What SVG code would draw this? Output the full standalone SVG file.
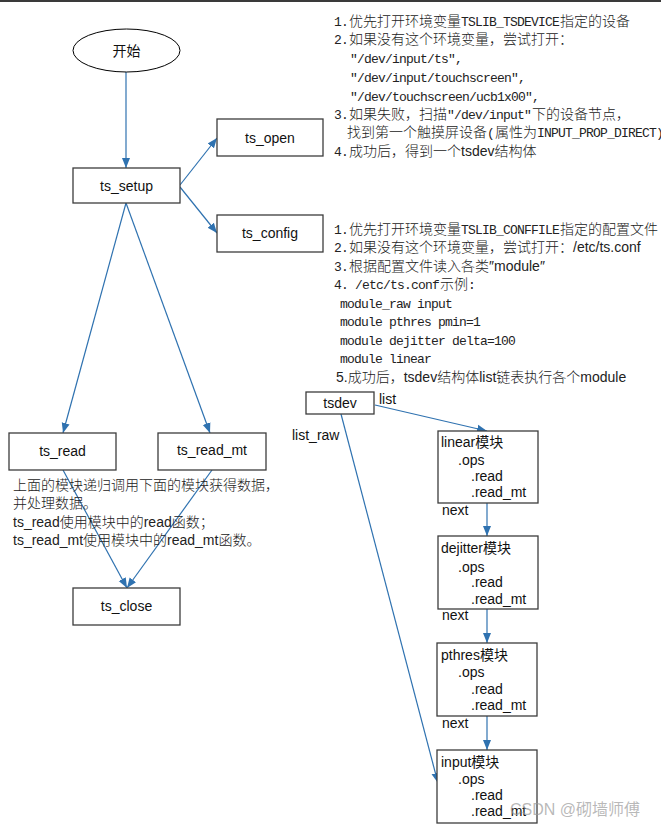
<svg xmlns="http://www.w3.org/2000/svg" width="661" height="828" viewBox="0 0 661 828">
<defs>
<marker id="ah" markerUnits="userSpaceOnUse" markerWidth="10" markerHeight="10" viewBox="0 0 10 10" refX="10" refY="5" orient="auto">
<path d="M0,1 L10,5 L0,9 Z" fill="#2f72b0"/>
</marker>
<style>
.bx{fill:#fff;stroke:#3c3c3c;stroke-width:1.3}
.ln{fill:none;stroke:#2f72b0;stroke-width:1.2;marker-end:url(#ah)}
.a{font-family:"Liberation Sans",Arial,"Noto Sans CJK SC",sans-serif;font-size:14px;fill:#111}
.c{font-family:"Noto Sans CJK SC",sans-serif;font-size:14px;fill:#222;font-weight:300}
.m{font-family:"Liberation Mono","Noto Sans CJK SC",monospace;font-size:13px;letter-spacing:-0.8px;fill:#222;font-weight:400}
.s{font-family:"Liberation Sans",Arial,sans-serif;font-size:14px;fill:#222;font-weight:400}
.ctr{text-anchor:middle}
.wm{font-family:"Liberation Sans","Noto Sans CJK SC",sans-serif;font-size:16px;fill:#9a9a9a;fill-opacity:0.7}
</style>
</defs>
<rect x="0" y="0" width="661" height="828" fill="#fff"/>
<rect x="0" y="0" width="661" height="2" fill="#3a3a3a"/>

<g id="connectors">
<line class="ln" x1="126" y1="72" x2="126" y2="168"/>
<line class="ln" x1="180" y1="185" x2="217" y2="138"/>
<line class="ln" x1="180" y1="187" x2="217" y2="233"/>
<line class="ln" x1="126" y1="203" x2="63" y2="433"/>
<line class="ln" x1="126" y1="203" x2="210" y2="433"/>
<line class="ln" x1="63" y1="470" x2="127" y2="588"/>
<line class="ln" x1="212" y1="470" x2="127" y2="588"/>
<line class="ln" x1="375" y1="405" x2="487" y2="431"/>
<line class="ln" x1="341" y1="414" x2="438" y2="783"/>
<line class="ln" x1="487" y1="503" x2="487" y2="536"/>
<line class="ln" x1="487" y1="609" x2="487" y2="643"/>
<line class="ln" x1="487" y1="716" x2="487" y2="750"/>
</g>

<g id="start">
<ellipse cx="126.5" cy="50.5" rx="53.5" ry="21.5" fill="#fff" stroke="#000" stroke-width="1"/>
<text class="a ctr" x="126.5" y="55.5">开始</text>
</g>
<g id="ts_setup">
<rect class="bx" x="73" y="168" width="107" height="35"/>
<text class="a ctr" x="126.5" y="190.5">ts_setup</text>
</g>
<g id="ts_open">
<rect class="bx" x="217" y="119" width="106" height="37"/>
<text class="a ctr" x="270" y="143">ts_open</text>
</g>
<g id="ts_config">
<rect class="bx" x="217" y="215" width="106" height="37"/>
<text class="a ctr" x="270" y="238">ts_config</text>
</g>
<g id="ts_read">
<rect class="bx" x="9" y="433" width="107" height="37"/>
<text class="a ctr" x="62.5" y="456">ts_read</text>
</g>
<g id="ts_read_mt">
<rect class="bx" x="158" y="433" width="108" height="37"/>
<text class="a ctr" x="212" y="455">ts_read_mt</text>
</g>
<g id="ts_close">
<rect class="bx" x="73" y="588" width="107" height="37"/>
<text class="a ctr" x="126.5" y="611">ts_close</text>
</g>

<g id="note-read">
<text class="c" x="13" y="490">上面的模块递归调用下面的模块获得数据，</text>
<text class="c" x="13" y="508">并处理数据。</text>
<text class="c" x="13" y="527"><tspan class="s">ts_read</tspan>使用模块中的<tspan class="s">read</tspan>函数；</text>
<text class="c" x="13" y="545"><tspan class="s">ts_read_mt</tspan>使用模块中的<tspan class="s">read_mt</tspan>函数。</text>
</g>

<g id="note-open">
<text class="c" x="334" y="26"><tspan class="m">1.</tspan><tspan dx="1">优先打开环境变量</tspan><tspan class="m">TSLIB_TSDEVICE</tspan><tspan dx="1">指定的设备</tspan></text>
<text class="c" x="334" y="44"><tspan class="m">2.</tspan><tspan dx="1">如果没有这个环境变量，尝试打开：</tspan></text>
<text class="m" x="350" y="63">″/dev/input/ts″,</text>
<text class="m" x="350" y="82">″/dev/input/touchscreen″,</text>
<text class="m" x="350" y="101">″/dev/touchscreen/ucb1x00″,</text>
<text class="c" x="334" y="119"><tspan class="m">3.</tspan><tspan dx="1">如果失败，扫描</tspan><tspan class="m">″/dev/input″</tspan><tspan dx="1">下的设备节点，</tspan></text>
<text class="c" x="347" y="137">找到第一个触摸屏设备<tspan class="m">(</tspan><tspan dx="1">属性为</tspan><tspan class="m">INPUT_PROP_DIRECT)</tspan></text>
<text class="c" x="334" y="156"><tspan class="m">4.</tspan><tspan dx="1">成功后，得到一个</tspan><tspan class="s">tsdev</tspan>结构体</text>
</g>

<g id="note-config">
<text class="c" x="334" y="234"><tspan class="m">1.</tspan><tspan dx="1">优先打开环境变量</tspan><tspan class="m">TSLIB_CONFFILE</tspan><tspan dx="1">指定的配置文件</tspan></text>
<text class="c" x="334" y="252"><tspan class="m">2.</tspan><tspan dx="1">如果没有这个环境变量，尝试打开：</tspan><tspan class="s">/etc/ts.conf</tspan></text>
<text class="c" x="334" y="271"><tspan class="m">3.</tspan><tspan dx="1">根据配置文件读入各类</tspan><tspan class="s">″module″</tspan></text>
<text class="c" x="334" y="289"><tspan class="m">4. /etc/ts.conf</tspan><tspan dx="1">示例</tspan><tspan class="m">:</tspan></text>
<text class="m" x="340" y="308">module_raw input</text>
<text class="m" x="340" y="326">module pthres pmin=1</text>
<text class="m" x="340" y="345">module dejitter delta=100</text>
<text class="m" x="340" y="363">module linear</text>
<text class="c" x="336" y="382"><tspan class="s">5.</tspan>成功后，<tspan class="s">tsdev</tspan>结构体<tspan class="s">list</tspan>链表执行各个<tspan class="s">module</tspan></text>
</g>

<g id="tsdev">
<rect class="bx" x="306" y="392" width="68" height="22"/>
<text class="a ctr" x="340" y="408">tsdev</text>
<text class="a" x="379" y="404">list</text>
<text class="a" x="292" y="440">list_raw</text>
</g>

<g id="linear">
<rect class="bx" x="438" y="431" width="100" height="72"/>
<text class="a" x="441" y="447">linear模块</text>
<text class="a" x="458" y="465">.ops</text>
<text class="a" x="471" y="481">.read</text>
<text class="a" x="471" y="497">.read_mt</text>
<text class="a" x="442" y="515">next</text>
</g>
<g id="dejitter">
<rect class="bx" x="438" y="536" width="100" height="73"/>
<text class="a" x="441" y="553">dejitter模块</text>
<text class="a" x="458" y="572">.ops</text>
<text class="a" x="471" y="587">.read</text>
<text class="a" x="471" y="604">.read_mt</text>
<text class="a" x="442" y="620">next</text>
</g>
<g id="pthres">
<rect class="bx" x="437" y="643" width="100" height="73"/>
<text class="a" x="441" y="660">pthres模块</text>
<text class="a" x="458" y="677">.ops</text>
<text class="a" x="471" y="694">.read</text>
<text class="a" x="471" y="710">.read_mt</text>
<text class="a" x="442" y="728">next</text>
</g>
<g id="input">
<rect class="bx" x="437" y="750" width="100" height="73"/>
<text class="a" x="441" y="767">input模块</text>
<text class="a" x="458" y="784">.ops</text>
<text class="a" x="471" y="800">.read</text>
<text class="a" x="471" y="816">.read_mt</text>
</g>

<text class="wm" x="510" y="815">CSDN @砌墙师傅</text>
</svg>
